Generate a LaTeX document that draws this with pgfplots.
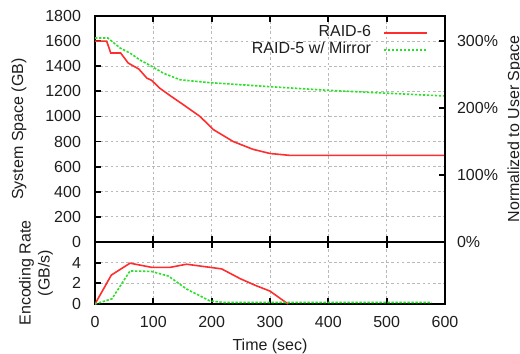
\documentclass[border=0pt]{standalone}
\usepackage{pgfplots}
\pgfplotsset{compat=1.18}
\usepackage{fontspec}
\setmainfont{Liberation Sans}
\definecolor{rred}{RGB}{255,45,45}
\definecolor{rgreen}{RGB}{40,225,40}
\definecolor{txt}{RGB}{30,30,30}
\pgfplotsset{
  base/.style={
    scale only axis, width=175pt, xmin=0, xmax=600,
    tick align=inside, major tick length=3pt,
    axis line style={line width=1pt, black},
    tick style={black, line width=0.9pt},
    grid=major,
    grid style={gray!55, line width=0.4pt, dash pattern=on 1.3pt off 1.3pt},
    font=\fontsize{8}{9.5}\selectfont\color{txt},
    /pgf/number format/assume math mode=true,
    /pgf/number format/set thousands separator={},
    xtick={0,100,...,600},
    yticklabel style={xshift=-3.5pt},
    xticklabel style={yshift=-2.5pt},
  },
  red line/.style={rred, line width=0.8pt},
  green line/.style={rgreen, line width=0.8pt, dash pattern=on 1.2pt off 0.8pt},
}
\begin{document}
\begin{tikzpicture}
\begin{axis}[base, name=top, height=113pt,
  ymin=0, ymax=1800, ytick={0,200,...,1800}, ytick pos=left,
  xticklabels={},
  ylabel={System Space (GB)},
  ylabel style={at={(rel axis cs:0,0.5)}, anchor=center, yshift=38pt},
  legend plot pos=right,
  legend cell align=right,
  legend image code/.code={\draw[#1] (0pt,0pt) -- (21.5pt,0pt);},
  legend style={at={(rel axis cs:1,1)}, anchor=north east, xshift=-8.5pt, yshift=-4.2pt,
    draw=none, fill=none, inner sep=0pt, row sep=0pt, column sep=6pt,
    nodes={inner sep=0pt, text height=6pt, text depth=2.5pt},
    font=\fontsize{8}{9.5}\selectfont\color{txt}},
]
\addplot[red line] coordinates {
(0,1600)(20,1600)(27,1505)(44,1505)(57,1425)(75,1378)(89,1305)(97,1288)(111,1225)
(129,1165)(151,1095)(180,1000)(203,895)(237,800)(271,738)(300,705)(334,690)(600,690)};
\addlegendentry{RAID-6}
\addplot[green line] coordinates {
(0,1625)(22,1625)(43,1545)(60,1505)(77,1450)(97,1400)(117,1345)(146,1292)(197,1269)
(300,1237)(400,1208)(500,1185)(600,1163)};
\addlegendentry{RAID-5 w/ Mirror}
\end{axis}
\begin{axis}[scale only axis, width=175pt, height=113pt, at={(top.south west)}, anchor=south west,
  xmin=0, xmax=600, ymin=0, ymax=337.5,
  axis x line=none, axis y line*=right,
  axis line style={line width=1pt, black},
  tick align=inside, major tick length=3pt,
  tick style={black, line width=0.9pt},
  ytick={0,100,200,300},
  yticklabel={\pgfmathprintnumber{\tick}\%},
  yticklabel style={xshift=2.5pt},
  font=\fontsize{8}{9.5}\selectfont\color{txt},
  /pgf/number format/assume math mode=true,
  ylabel={Normalized to User Space},
  ylabel style={at={(rel axis cs:1,0.5)}, anchor=center, yshift=-35pt},
]
\end{axis}
\begin{axis}[base, name=bot, at={(top.south west)}, anchor=north west, height=31pt,
  ymin=0, ymax=6, ytick={0,2,4}, ytick pos=left,
  xlabel={Time (sec)},
  xlabel style={yshift=1pt},
  ylabel={Encoding Rate\\(GB/s)},
  ylabel style={align=center, at={(rel axis cs:0,0.5)}, anchor=center, yshift=29.5pt},
]
\addplot[red line] coordinates {
(0,0)(28,2.8)(60,3.95)(97,3.55)(129,3.55)(157,3.85)(197,3.55)(217,3.4)(249,2.45)
(275,1.8)(300,1.25)(331,0)};
\addplot[green line] coordinates {
(0,0)(29,0.5)(60,3.2)(97,3.15)(126,2.7)(157,1.45)(197,0.3)(220,0.15)(577,0.15)};
\end{axis}
\pgfresetboundingbox
\path ([xshift=-47.5pt,yshift=-24.5pt]bot.south west) rectangle ([xshift=37.5pt,yshift=8pt]top.north east);
\end{tikzpicture}
\end{document}
